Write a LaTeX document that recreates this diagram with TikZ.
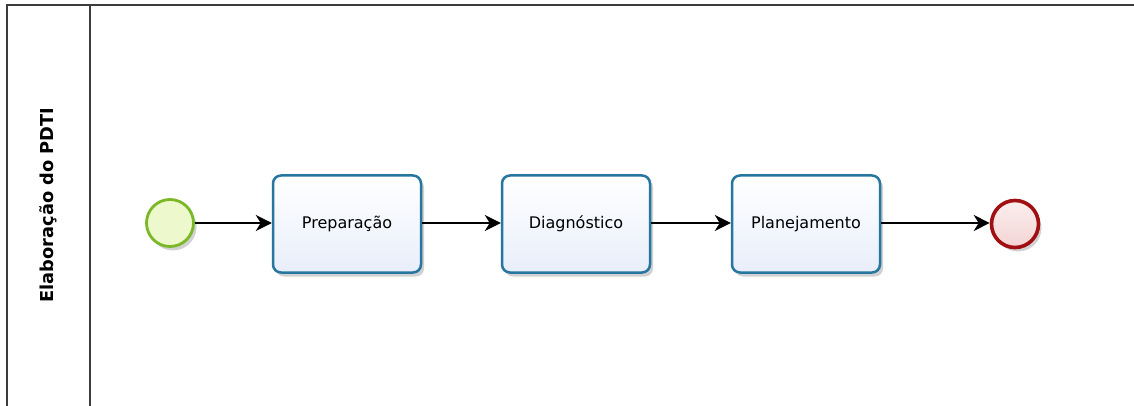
\documentclass[tikz,border=0pt]{standalone}
\usepackage{fontspec}
\setmainfont{DejaVu Sans}
\usetikzlibrary{arrows.meta,shadows}
\definecolor{taskline}{RGB}{38,118,160}
\definecolor{taskfill}{RGB}{232,238,250}
\definecolor{startline}{RGB}{122,184,40}
\definecolor{startfill}{RGB}{238,248,205}
\definecolor{endline}{RGB}{160,16,18}
\definecolor{endfill}{RGB}{244,212,212}
\definecolor{poolline}{RGB}{60,60,60}
\tikzset{
  taskbox/.style={draw=taskline, line width=2.5pt, rounded corners=8pt,
    top color=white, bottom color=taskfill, minimum width=148pt, minimum height=97pt,
    font=\fontsize{16}{19}\selectfont, inner sep=0pt,
    drop shadow={shadow xshift=3pt, shadow yshift=-4pt, opacity=0.18, fill=black}},
  startev/.style={circle, draw=startline, line width=2.8pt, fill=startfill,
    minimum size=47pt, inner sep=0pt,
    drop shadow={shadow xshift=3pt, shadow yshift=-4pt, opacity=0.18, fill=black}},
  endev/.style={circle, draw=endline, line width=3.6pt, top color=white!60!endfill, bottom color=endfill,
    minimum size=47pt, inner sep=0pt,
    drop shadow={shadow xshift=3pt, shadow yshift=-4pt, opacity=0.18, fill=black}},
  flow/.style={line width=1.4pt, black, -{Stealth[length=16pt 0,width=16pt 0,inset=5pt]}},
  poolborder/.style={draw=poolline, line width=1.6pt}
}
\begin{document}
\begin{tikzpicture}[x=1pt,y=-1pt]
\useasboundingbox (0,0) rectangle (1134,406);
\fill[white] (0,0) rectangle (1134,406);
% pool
\draw[poolborder] (7,410) -- (7,5) -- (1140,5);
\draw[poolborder] (90,5) -- (90,410);
\node[rotate=90, font=\bfseries\fontsize{17.8}{21}\selectfont] (lane) at (48,205) {Elaboração do PDTI};
% nodes
\node[startev] (start) at (170,223) {};
\node[taskbox] (t1) at (347,224) {Preparação};
\node[taskbox] (t2) at (576,224) {Diagnóstico};
\node[taskbox] (t3) at (806,224) {Planejamento};
\node[endev] (end) at (1015,224) {};
% flows
\draw[flow] (start.east) -- (t1.west |- start.east);
\draw[flow] (t1.east |- start.east) -- (t2.west |- start.east);
\draw[flow] (t2.east |- start.east) -- (t3.west |- start.east);
\draw[flow] (t3.east |- start.east) -- (end.west |- start.east);
\end{tikzpicture}
\end{document}
